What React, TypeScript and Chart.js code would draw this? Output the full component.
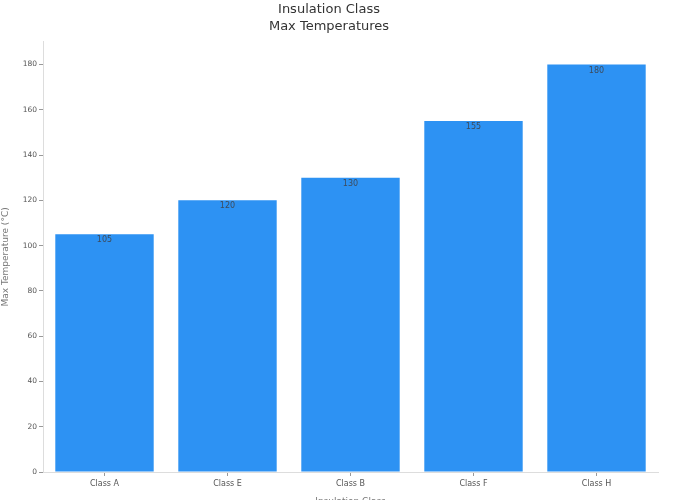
import React, { useEffect, useRef } from 'react';
import { Chart, registerables, Plugin } from 'chart.js';

Chart.register(...registerables);

const classes = ['Class A', 'Class E', 'Class B', 'Class F', 'Class H'];
const maxTemps = [105, 120, 130, 155, 180];
const yTicks = [0, 20, 40, 60, 80, 100, 120, 140, 160, 180];

const FONT = '"DejaVu Sans", sans-serif';

// draws the value just under the top of each bar
const barLabels: Plugin<'bar'> = {
  id: 'barLabels',
  afterDatasetsDraw(chart) {
    const ctx = chart.ctx;
    const meta = chart.getDatasetMeta(0);
    ctx.save();
    ctx.font = `8px ${FONT}`;
    ctx.fillStyle = '#3d4b5c';
    ctx.textAlign = 'center';
    ctx.textBaseline = 'middle';
    meta.data.forEach((bar, i) => {
      ctx.fillText(String(maxTemps[i]), bar.x, bar.y + 6);
    });
    ctx.restore();
  },
};

const App: React.FC = () => {
  const canvasRef = useRef<HTMLCanvasElement>(null);
  const chartRef = useRef<Chart | null>(null);

  useEffect(() => {
    document.body.style.margin = '0';
    document.body.style.overflow = 'hidden';
    if (!canvasRef.current) return;
    if (chartRef.current) chartRef.current.destroy();
    const ctx = canvasRef.current.getContext('2d');
    if (!ctx) return;

    chartRef.current = new Chart(ctx, {
      type: 'bar',
      data: {
        labels: classes,
        datasets: [
          {
            data: maxTemps,
            backgroundColor: '#2d92f3',
            borderWidth: 0,
            barPercentage: 0.8,
            categoryPercentage: 1,
          },
        ],
      },
      options: {
        animation: false,
        responsive: false,
        maintainAspectRatio: false,
        layout: { padding: { top: 0, left: 0, right: 26, bottom: 0 } },
        plugins: {
          legend: { display: false },
          tooltip: { enabled: false },
          title: {
            display: true,
            text: ['Insulation Class', 'Max Temperatures'],
            color: '#333',
            font: { family: FONT, size: 13, weight: 'normal', lineHeight: 1.3 },
            padding: { top: 1, bottom: 7 },
          },
        },
        scales: {
          x: {
            grid: {
              display: true,
              offset: false,
              drawOnChartArea: false,
              drawTicks: true,
              tickLength: 4,
              color: '#999',
            },
            border: { display: true, color: '#ddd' },
            ticks: {
              color: '#555',
              font: { family: FONT, size: 8 },
              padding: 3,
              maxRotation: 0,
            },
            title: {
              display: true,
              text: 'Insulation Class',
              color: '#777',
              font: { family: FONT, size: 9 },
              padding: { top: 4, bottom: 3 },
            },
            afterFit(scale) {
              scale.height = 38;
            },
          },
          y: {
            min: 0,
            max: 190,
            afterBuildTicks(scale) {
              scale.ticks = yTicks.map((v) => ({ value: v }));
            },
            grid: {
              display: true,
              drawOnChartArea: false,
              drawTicks: true,
              tickLength: 4,
              color: '#999',
            },
            border: { display: true, color: '#ddd' },
            ticks: {
              color: '#555',
              font: { family: FONT, size: 7.5 },
              padding: 2,
            },
            title: {
              display: true,
              text: 'Max Temperature (°C)',
              color: '#777',
              font: { family: FONT, size: 9 },
              padding: { top: 0, bottom: 0 },
            },
            afterFit(scale) {
              scale.width = 43;
            },
          },
        },
      },
      plugins: [barLabels],
    });

    return () => {
      if (chartRef.current) {
        chartRef.current.destroy();
        chartRef.current = null;
      }
    };
  }, []);

  return (
    <div style={{ width: 684, height: 510 }}>
      <canvas ref={canvasRef} width={684} height={510} style={{ width: 684, height: 510 }}></canvas>
    </div>
  );
};

export default App;
